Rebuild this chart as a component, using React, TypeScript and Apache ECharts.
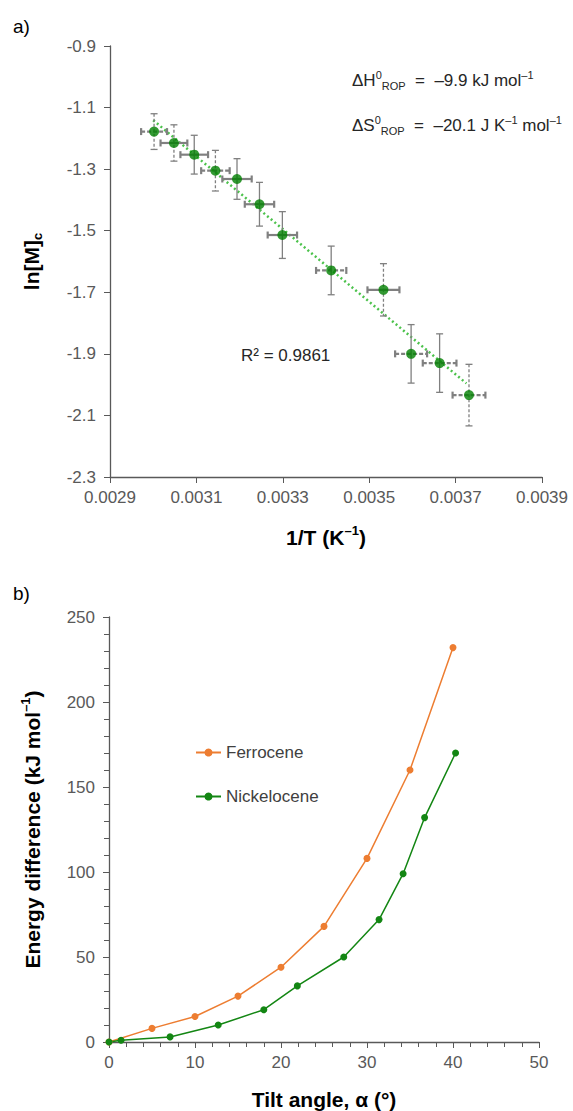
import React, { useEffect, useRef } from "react";
import * as echarts from "echarts";

// ---- Panel a) data ----
const invT = [0.003002, 0.003048, 0.003095, 0.003144, 0.003194, 0.003246, 0.003299, 0.003412, 0.003533, 0.003597, 0.003663, 0.003731];
const lnM = [-1.178, -1.215, -1.253, -1.305, -1.332, -1.414, -1.514, -1.629, -1.692, -1.9, -1.93, -2.034];
const invTErr = [3.0e-5, 3.1e-5, 3.2e-5, 3.3e-5, 3.4e-5, 3.4e-5, 3.4e-5, 3.5e-5, 3.7e-5, 3.7e-5, 3.9e-5, 3.8e-5];
const lnMErr = [0.058, 0.059, 0.063, 0.066, 0.066, 0.071, 0.076, 0.079, 0.085, 0.095, 0.095, 0.1];
const vDashed = [1, 1, 0, 1, 0, 0, 0, 0, 1, 0, 0, 1];
const hDashed = [1, 0, 0, 1, 0, 0, 0, 1, 0, 1, 1, 1];
const trendX = [0.003, 0.003725];
const trendY = [-1.141, -1.996];
const xTicksA = [0.0029, 0.0031, 0.0033, 0.0035, 0.0037, 0.0039];
const yTicksA = [-2.3, -2.1, -1.9, -1.7, -1.5, -1.3, -1.1, -0.9];

// ---- Panel b) data ----
const ferroX = [0, 5, 10, 15, 20, 25, 30, 35, 40];
const ferroY = [0, 8, 15, 27, 44, 68, 108, 160, 232];
const nickX = [0, 1.4, 7.1, 12.7, 18, 21.9, 27.3, 31.4, 34.2, 36.7, 40.3];
const nickY = [0, 1, 3, 10, 19, 33, 50, 72, 99, 132, 170];

const FONT = '"Liberation Sans", Arial, sans-serif';
const LABEL = "#595959";
const AXIS = "#595959";

function boldRich(size: number) {
  return {
    b: { fontSize: size, lineHeight: size + 5, fontWeight: "bold", fontFamily: FONT, color: "#000" },
    sup: { fontSize: Math.round(size * 0.62), lineHeight: Math.round(size * 0.62), verticalAlign: "top", fontWeight: "bold", fontFamily: FONT, color: "#000" },
    sub: { fontSize: Math.round(size * 0.62), lineHeight: Math.round(size * 0.62), verticalAlign: "bottom", fontWeight: "bold", fontFamily: FONT, color: "#000" },
  };
}

export default function App() {
  const ref = useRef<HTMLDivElement>(null);
  useEffect(() => {
    const chart = echarts.init(ref.current!, null, { renderer: "svg" });
    const rich = {
      n: { fontSize: 17, lineHeight: 22, fontFamily: FONT, color: "#262626" },
      sup: { fontSize: 11, lineHeight: 11, verticalAlign: "top", fontFamily: FONT, color: "#262626" },
      sub: { fontSize: 11, lineHeight: 11, verticalAlign: "bottom", fontFamily: FONT, color: "#262626" },
    };
    const errData = invT.map((x, i) => [x, lnM[i], invTErr[i], lnMErr[i], vDashed[i], hDashed[i]]);
    const axisCommon = {
      axisLine: { show: true, onZero: false, lineStyle: { color: AXIS, width: 1.3 } },
      splitLine: { show: false },
    };
    const option: any = {
      animation: false,
      textStyle: { fontFamily: FONT },
      grid: [
        { left: 110, top: 46, width: 432, height: 431, containLabel: false, outerBoundsMode: "none" },
        { left: 109, top: 617, width: 430, height: 425, containLabel: false, outerBoundsMode: "none" },
      ],
      xAxis: [
        {
          gridIndex: 0, type: "value", min: 0.0029, max: 0.0039, ...axisCommon,
          axisTick: { show: true, customValues: xTicksA, length: 6, lineStyle: { color: AXIS } },
          axisLabel: { customValues: xTicksA, formatter: (v: number) => v.toFixed(4), fontSize: 17, color: LABEL, margin: 12, fontFamily: FONT },
          name: "{b|1/T (K}{sup|–1}{b|)}", nameLocation: "middle", nameGap: 47,
          nameTextStyle: { rich: boldRich(21) },
        },
        {
          gridIndex: 1, type: "value", min: 0, max: 50, interval: 10, ...axisCommon,
          axisTick: { show: true, length: 6, lineStyle: { color: AXIS } },
          minorTick: { show: true, splitNumber: 5, length: 5, lineStyle: { color: AXIS } },
          axisLabel: { fontSize: 17, color: LABEL, margin: 12, fontFamily: FONT },
          name: "{b|Tilt angle, α (°)}", nameLocation: "middle", nameGap: 44,
          nameTextStyle: { rich: boldRich(21) },
        },
      ],
      yAxis: [
        {
          gridIndex: 0, type: "value", min: -2.3, max: -0.9, ...axisCommon,
          axisTick: { show: true, customValues: yTicksA, length: 6, lineStyle: { color: AXIS } },
          axisLabel: { customValues: yTicksA, formatter: (v: number) => v.toFixed(1), fontSize: 17, color: LABEL, margin: 14, fontFamily: FONT },
          name: "{b|ln[M]}{sub|c}", nameLocation: "middle", nameGap: 66,
          nameTextStyle: { rich: boldRich(21) },
        },
        {
          gridIndex: 1, type: "value", min: 0, max: 250, interval: 50, ...axisCommon,
          axisTick: { show: true, length: 6, lineStyle: { color: AXIS } },
          minorTick: { show: true, splitNumber: 5, length: 5, lineStyle: { color: AXIS } },
          axisLabel: { fontSize: 17, color: LABEL, margin: 14, fontFamily: FONT },
          name: "{b|Energy difference (kJ mol}{sup|–1}{b|)}", nameLocation: "middle", nameGap: 64,
          nameTextStyle: { rich: boldRich(21) },
        },
      ],
      legend: {
        orient: "vertical", left: 190, top: 739, itemWidth: 25, itemHeight: 10, itemGap: 27,
        data: ["Ferrocene", "Nickelocene"],
        textStyle: { fontSize: 17, color: "#404040", fontFamily: FONT },
      },
      graphic: [
        { type: "text", left: 13, top: 17, style: { text: "a)", fontSize: 19, fill: "#000", fontFamily: FONT } },
        { type: "text", left: 13, top: 584, style: { text: "b)", fontSize: 19, fill: "#000", fontFamily: FONT } },
        {
          type: "text", x: 352, y: 80,
          style: { text: "{n|ΔH}{sup|0}{sub|ROP}{n|  =  –9.9 kJ mol}{sup|–1}", rich, verticalAlign: "middle", fill: "#262626" },
        },
        {
          type: "text", x: 352, y: 125,
          style: { text: "{n|ΔS}{sup|0}{sub|ROP}{n|  =  –20.1 J K}{sup|–1}{n| mol}{sup|–1}", rich, verticalAlign: "middle", fill: "#262626" },
        },
        {
          type: "text", x: 241, y: 355,
          style: { text: "R² = 0.9861", fontSize: 17, fill: "#262626", fontFamily: FONT, verticalAlign: "middle" },
        },
      ],
      series: [
        {
          type: "line", xAxisIndex: 0, yAxisIndex: 0, silent: true, symbol: "none",
          data: trendX.map((x, i) => [x, trendY[i]]),
          lineStyle: { color: "#4CC24C", width: 2.5, type: [2, 2.8] }, z: 1,
        },
        {
          type: "custom", xAxisIndex: 0, yAxisIndex: 0, data: errData, encode: { x: 0, y: 1 }, z: 2, silent: true,
          renderItem: (params: any, api: any) => {
            const x = api.value(0), y = api.value(1), xe = api.value(2), ye = api.value(3);
            const vd = api.value(4), hd = api.value(5);
            const c = api.coord([x, y]);
            const t = api.coord([x, y + ye]);
            const b = api.coord([x, y - ye]);
            const l = api.coord([x - xe, y]);
            const r = api.coord([x + xe, y]);
            const g = "#808080";
            const cap = 3.5;
            const vs: any = { stroke: g, lineWidth: 1.3 };
            if (vd) vs.lineDash = [3, 2];
            const hs: any = { stroke: g, lineWidth: 2.2 };
            if (hd) hs.lineDash = [4, 2];
            return {
              type: "group",
              children: [
                { type: "line", shape: { x1: c[0], y1: t[1], x2: c[0], y2: b[1] }, style: vs },
                { type: "line", shape: { x1: c[0] - cap, y1: t[1], x2: c[0] + cap, y2: t[1] }, style: { stroke: g, lineWidth: 1.3 } },
                { type: "line", shape: { x1: c[0] - cap, y1: b[1], x2: c[0] + cap, y2: b[1] }, style: { stroke: g, lineWidth: 1.3 } },
                { type: "line", shape: { x1: l[0], y1: c[1], x2: r[0], y2: c[1] }, style: hs },
                { type: "line", shape: { x1: l[0], y1: c[1] - cap, x2: l[0], y2: c[1] + cap }, style: { stroke: g, lineWidth: 2.2 } },
                { type: "line", shape: { x1: r[0], y1: c[1] - cap, x2: r[0], y2: c[1] + cap }, style: { stroke: g, lineWidth: 2.2 } },
              ],
            };
          },
        },
        {
          type: "scatter", xAxisIndex: 0, yAxisIndex: 0, z: 3, symbolSize: 10,
          data: invT.map((x, i) => [x, lnM[i]]),
          itemStyle: { color: "#008000" },
        },
        {
          name: "Ferrocene", type: "line", xAxisIndex: 1, yAxisIndex: 1, symbol: "circle", symbolSize: 7,
          data: ferroX.map((x, i) => [x, ferroY[i]]),
          itemStyle: { color: "#ED7D31" }, lineStyle: { color: "#ED7D31", width: 1.5 },
        },
        {
          name: "Nickelocene", type: "line", xAxisIndex: 1, yAxisIndex: 1, symbol: "circle", symbolSize: 7,
          data: nickX.map((x, i) => [x, nickY[i]]),
          itemStyle: { color: "#138613" }, lineStyle: { color: "#138613", width: 1.5 },
        },
      ],
    };
    chart.setOption(option);
    return () => chart.dispose();
  }, []);
  return <div ref={ref} style={{ position: "absolute", left: 0, top: 0, width: 573, height: 1111 }} />;
}
